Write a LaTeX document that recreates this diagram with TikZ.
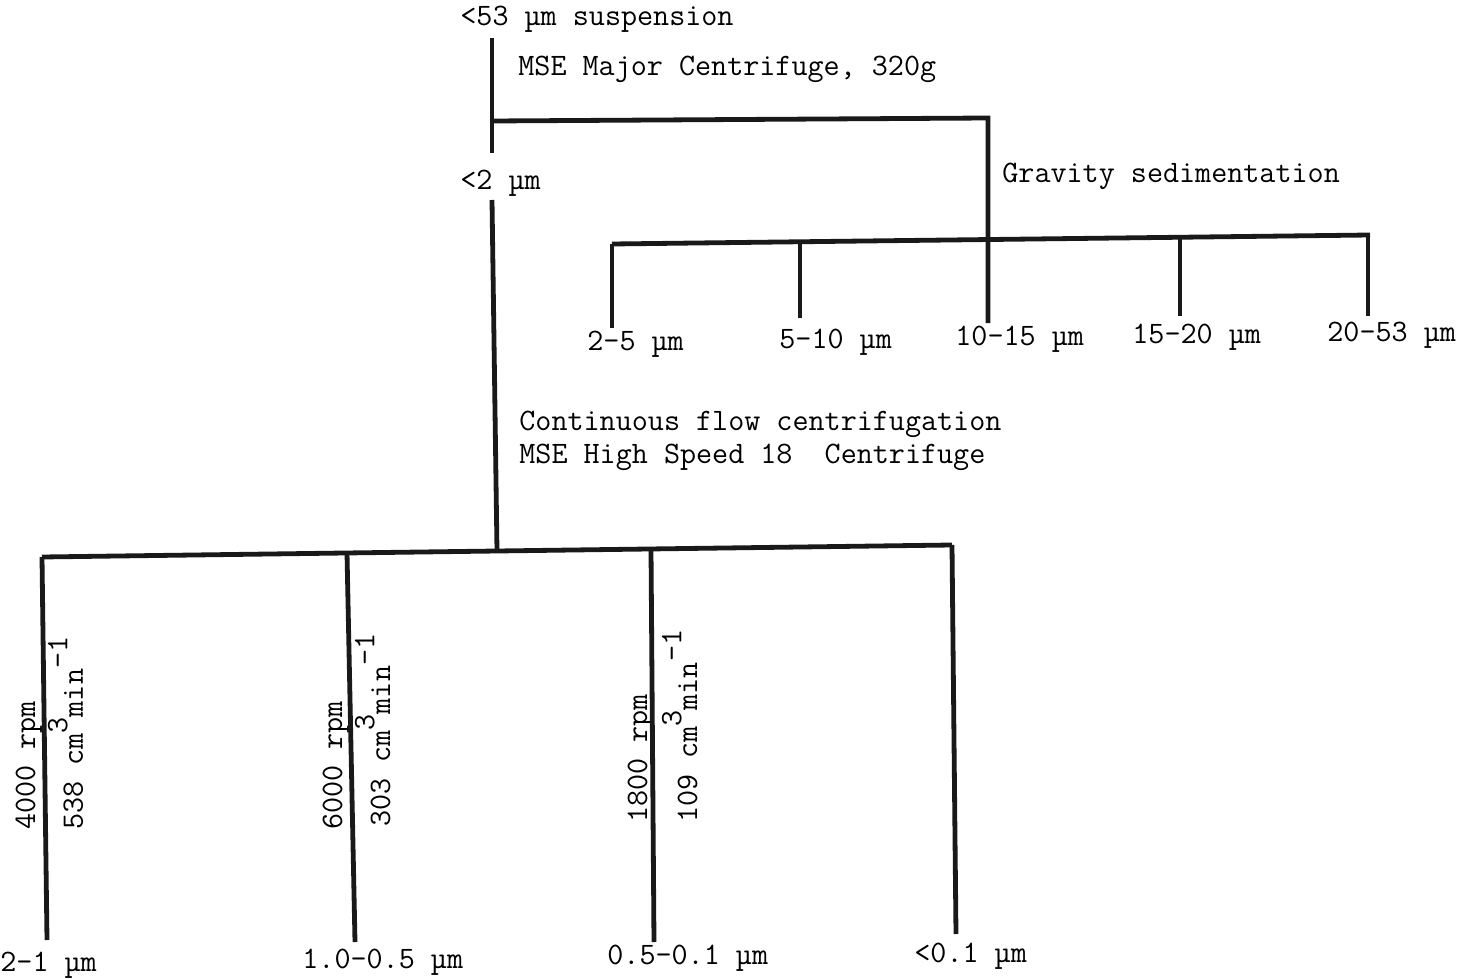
\documentclass[tikz,border=0pt]{standalone}
\usepackage{fontspec}
\newcommand{\upx}[1]{\raisebox{0.5em}{#1}}
\begin{document}
\begin{tikzpicture}[x=0.5pt,y=-0.5pt,
  bar/.style={line width=2.4pt, line cap=butt, color=black!90},
  lbl/.style={inner sep=0pt, anchor=base west, font=\ttfamily\fontsize{15.6}{18}\selectfont},
  rlbl/.style={lbl, rotate=90}]
\useasboundingbox (0,0) rectangle (1463,979);

% labels
\node[lbl] (s53) at (460,26) {<53 µm suspension};
\node[lbl] (mse1) at (518,76) {MSE Major Centrifuge, 320g};
\node[lbl] (c2) at (460,190) {<2 µm};
\node[lbl] (grav) at (1002,183) {Gravity sedimentation};
\node[lbl] (g1) at (587,350) {2-5 µm};
\node[lbl] (g2) at (779,348) {5-10 µm};
\node[lbl] (g3) at (955,345) {10-15 µm};
\node[lbl] (g4) at (1132,343) {15-20 µm};
\node[lbl] (g5) at (1327,341) {20-53 µm};
\node[lbl] (cf1) at (519,430) {Continuous flow centrifugation};
\node[lbl] (cf2) at (519,463) {MSE High Speed 18\phantom{:} Centrifuge};
\node[lbl] (b1) at (0,971) {2-1 µm};
\node[lbl] (b2) at (302,968) {1.0-0.5 µm};
\node[lbl] (b3) at (607,964) {0.5-0.1 µm};
\node[lbl] (b4) at (914,962) {<0.1 µm};
\node[rlbl] (r1a) at (35,830) {4000 rpm};
\node[rlbl] (r1b) at (83,830) {538 cm\upx{3}min\upx{-1}};
\node[rlbl] (r2a) at (342,830) {6000 rpm};
\node[rlbl] (r2b) at (390,827) {303 cm\upx{3}min\upx{-1}};
\node[rlbl] (r3a) at (647,823) {1800 rpm};
\node[rlbl] (r3b) at (697,823) {109 cm\upx{3}min\upx{-1}};

% junctions
\coordinate (t0) at (492,38);
\coordinate (t1) at (492,153);
\coordinate (j1) at (492,121);
\coordinate (j2) at (988,118);
\coordinate (ga) at (612,244);
\coordinate (gb) at (1370,235);
\coordinate (gx1) at (612,244);
\coordinate (gx2) at (800,241.8);
\coordinate (gx4) at (1180,237.3);
\coordinate (gx5) at (1368,235);
\coordinate (ge1) at (612,328);
\coordinate (ge2) at (800,318);
\coordinate (ge3) at (988,323);
\coordinate (ge4) at (1180,316);
\coordinate (ge5) at (1368,316);
\coordinate (u0) at (492,200);
\coordinate (u1) at (497,551);
\coordinate (ba) at (42,557);
\coordinate (bb) at (952,545);
\coordinate (bx2) at (347,553);
\coordinate (bx3) at (651,549);
\coordinate (be1) at (47,940);
\coordinate (be2) at (355,942);
\coordinate (be3) at (654,942);
\coordinate (be4) at (956,934);

% connectors
\draw[bar] (t0) -- (t1);
\draw[bar] (j1) -- (j2) -- (ge3);
\draw[bar] (ga) -- (gb);
\draw[bar] (gx1) -- (ge1);
\draw[bar] (gx2) -- (ge2);
\draw[bar] (gx4) -- (ge4);
\draw[bar] (gx5) -- (ge5);
\draw[bar] (u0) -- (u1);
\draw[bar] (ba) -- (bb);
\draw[bar] (ba) -- (be1);
\draw[bar] (bx2) -- (be2);
\draw[bar] (bx3) -- (be3);
\draw[bar] (bb) -- (be4);
\end{tikzpicture}
\end{document}
